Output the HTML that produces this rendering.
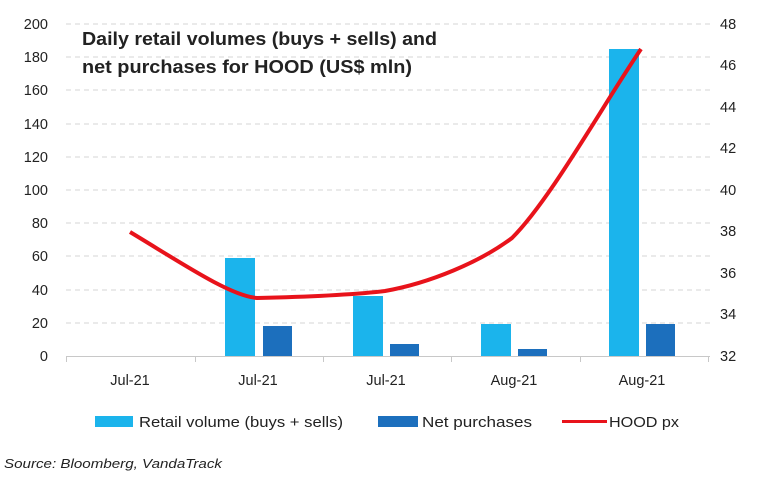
<!DOCTYPE html>
<html><head><meta charset="utf-8"><style>
body{margin:0;background:#fff;}
svg text{font-family:"Liberation Sans",sans-serif;fill:#222;}
</style></head><body>
<svg width="769" height="480" xmlns="http://www.w3.org/2000/svg">
<rect width="769" height="480" fill="#fff"/>
<g stroke="#d4d4d4" stroke-dasharray="5,4" stroke-width="1">
<line x1="66" x2="710" y1="24" y2="24"/><line x1="66" x2="710" y1="57" y2="57"/>
<line x1="66" x2="710" y1="90" y2="90"/><line x1="66" x2="710" y1="124" y2="124"/>
<line x1="66" x2="710" y1="157" y2="157"/><line x1="66" x2="710" y1="190" y2="190"/>
<line x1="66" x2="710" y1="223" y2="223"/><line x1="66" x2="710" y1="256" y2="256"/>
<line x1="66" x2="710" y1="290" y2="290"/><line x1="66" x2="710" y1="323" y2="323"/>
</g>
<g font-size="14.5" text-anchor="end">
<text x="48" y="29">200</text><text x="48" y="62">180</text><text x="48" y="95">160</text>
<text x="48" y="129">140</text><text x="48" y="162">120</text><text x="48" y="195">100</text>
<text x="48" y="228">80</text><text x="48" y="261">60</text><text x="48" y="295">40</text>
<text x="48" y="328">20</text><text x="48" y="361">0</text>
</g>
<g font-size="14.5" text-anchor="start">
<text x="720" y="29">48</text><text x="720" y="70">46</text><text x="720" y="112">44</text>
<text x="720" y="153">42</text><text x="720" y="195">40</text><text x="720" y="236">38</text>
<text x="720" y="278">36</text><text x="720" y="319">34</text><text x="720" y="361">32</text>
</g>
<g fill="#1bb4ec">
<rect x="225" y="258" width="30" height="98"/>
<rect x="353" y="296" width="30" height="60"/>
<rect x="481" y="324" width="30" height="32"/>
<rect x="609" y="49" width="30" height="307"/>
</g>
<g fill="#1c6fbd">
<rect x="263" y="326" width="29" height="30"/>
<rect x="390" y="344" width="29" height="12"/>
<rect x="518" y="349" width="29" height="7"/>
<rect x="646" y="324" width="29" height="32"/>
</g>
<g stroke="#c8c8c8" stroke-width="1">
<line x1="66" x2="710" y1="356.5" y2="356.5"/>
<line x1="66.5" x2="66.5" y1="356" y2="362"/><line x1="195.5" x2="195.5" y1="356" y2="362"/>
<line x1="323.5" x2="323.5" y1="356" y2="362"/><line x1="451.5" x2="451.5" y1="356" y2="362"/>
<line x1="580.5" x2="580.5" y1="356" y2="362"/><line x1="708.5" x2="708.5" y1="356" y2="362"/>
</g>
<path d="M130,232 C180,262 230,296 257,298 C300,297 350,295 385,291 C430,283 480,262 512,238 C550,200 600,110 641,49" fill="none" stroke="#e8131b" stroke-width="4" stroke-linejoin="round"/>
<g font-size="14.5" text-anchor="middle">
<text x="130" y="385">Jul-21</text><text x="258" y="385">Jul-21</text>
<text x="386" y="385">Jul-21</text><text x="514" y="385">Aug-21</text><text x="642" y="385">Aug-21</text>
</g>
<text x="82" y="45" font-size="18" font-weight="bold" textLength="355" lengthAdjust="spacingAndGlyphs">Daily retail volumes (buys + sells) and</text>
<text x="82" y="73" font-size="18" font-weight="bold" textLength="330" lengthAdjust="spacingAndGlyphs">net purchases for HOOD (US$ mln)</text>
<rect x="95" y="416" width="38" height="11" fill="#1bb4ec"/>
<text x="139" y="427" font-size="15" textLength="204" lengthAdjust="spacingAndGlyphs">Retail volume (buys + sells)</text>
<rect x="378" y="416" width="40" height="11" fill="#1c6fbd"/>
<text x="422" y="427" font-size="15" textLength="110" lengthAdjust="spacingAndGlyphs">Net purchases</text>
<line x1="562" x2="607" y1="421.5" y2="421.5" stroke="#e8131b" stroke-width="3"/>
<text x="609" y="427" font-size="15" textLength="70" lengthAdjust="spacingAndGlyphs">HOOD px</text>
<text x="4" y="468" font-size="13" font-style="italic" textLength="218" lengthAdjust="spacingAndGlyphs">Source: Bloomberg, VandaTrack</text>
</svg>
</body></html>
